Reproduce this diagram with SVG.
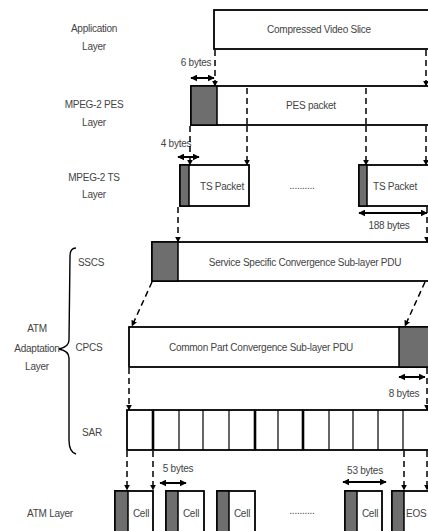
<svg xmlns="http://www.w3.org/2000/svg" width="428" height="531" viewBox="0 0 428 531">
<defs>
<marker id="ah" viewBox="0 0 10 10" refX="9" refY="5" markerWidth="6" markerHeight="6" orient="auto-start-reverse" markerUnits="userSpaceOnUse">
<path d="M0,0 L10,5 L0,10 z" fill="#000"/>
</marker>
<marker id="dh" viewBox="0 0 10 10" refX="9" refY="5" markerWidth="7" markerHeight="7" orient="auto-start-reverse" markerUnits="userSpaceOnUse">
<path d="M0,0 L10,5 L0,10 z" fill="#000"/>
</marker>
<style>
text{font-family:"Liberation Sans",Arial,sans-serif;font-size:10px;fill:#444;text-anchor:middle;letter-spacing:-0.25px}
.box{fill:#fff;stroke:#000;stroke-width:1.8}
.hdr{fill:#6e6e6e;stroke:#000;stroke-width:1.5}
.dash{stroke:#000;stroke-width:1.5;stroke-dasharray:6,4;fill:none}
.dashA{stroke:#000;stroke-width:1.5;stroke-dasharray:6,4;fill:none;marker-end:url(#ah)}
.dim{stroke:#000;stroke-width:2;fill:none;marker-start:url(#dh);marker-end:url(#dh)}
.thin{stroke:#000;stroke-width:1.2}
.thick{stroke:#000;stroke-width:2.6}
</style>
</defs>
<rect width="428" height="531" fill="#fff"/>

<g id="labels">
<text x="94" y="32">Application</text>
<text x="94" y="50">Layer</text>
<text x="94" y="108">MPEG-2 PES</text>
<text x="94" y="126">Layer</text>
<text x="94" y="181">MPEG-2 TS</text>
<text x="94" y="198">Layer</text>
<text x="91" y="266">SSCS</text>
<text x="89" y="351">CPCS</text>
<text x="92" y="436">SAR</text>
<text x="37" y="332">ATM</text>
<text x="37" y="352">Adaptation</text>
<text x="37" y="370">Layer</text>
<text x="50" y="517">ATM Layer</text>
<path d="M76,248 Q70,248 70,256 L69,340 Q69,347 59,349 Q69,351 69,358 L69,440 Q69,452 76,454" fill="none" stroke="#000" stroke-width="1.4"/>
</g>

<g id="app-slice">
<rect class="box" x="214" y="10" width="220" height="39"/>
<text x="319" y="33">Compressed Video Slice</text>
</g>

<g id="pes-packet">
<rect class="box" x="191" y="86" width="243" height="39"/>
<rect class="hdr" x="191" y="86" width="26" height="39"/>
<line class="dash" x1="247" y1="88" x2="247" y2="125"/>
<line class="dash" x1="366" y1="88" x2="366" y2="125"/>
<text x="311" y="109">PES packet</text>
</g>

<g id="ts-packet-1">
<rect class="box" x="180" y="165" width="69" height="41"/>
<rect class="hdr" x="180" y="165" width="9" height="41"/>
<text x="222" y="190">TS Packet</text>
</g>
<text x="302" y="189">..........</text>
<g id="ts-packet-2">
<rect class="box" x="359" y="165" width="75" height="41"/>
<rect class="hdr" x="359" y="165" width="8" height="41"/>
<text x="395" y="190">TS Packet</text>
</g>

<g id="sscs-pdu">
<rect class="box" x="152" y="242" width="282" height="39"/>
<rect class="hdr" x="152" y="242" width="26" height="39"/>
<text x="305" y="266">Service Specific Convergence Sub-layer PDU</text>
</g>

<g id="cpcs-pdu">
<rect class="box" x="129" y="327" width="305" height="40"/>
<rect class="hdr" x="399" y="327" width="35" height="40"/>
<text x="261" y="351">Common Part Convergence Sub-layer PDU</text>
</g>

<g id="sar">
<rect class="box" x="127" y="410" width="307" height="40"/>
<line class="thick" x1="153" y1="410" x2="153" y2="450"/>
<line class="thin" x1="179" y1="410" x2="179" y2="450"/>
<line class="thin" x1="203" y1="410" x2="203" y2="450"/>
<line class="thin" x1="229" y1="410" x2="229" y2="450"/>
<line class="thick" x1="255" y1="410" x2="255" y2="450"/>
<line class="thin" x1="278" y1="410" x2="278" y2="450"/>
<line class="thick" x1="303" y1="410" x2="303" y2="450"/>
<line class="thin" x1="329" y1="410" x2="329" y2="450"/>
<line class="thin" x1="353" y1="410" x2="353" y2="450"/>
<line class="thin" x1="378" y1="410" x2="378" y2="450"/>
<line class="thin" x1="403" y1="410" x2="403" y2="450"/>
</g>

<g id="cell-1">
<rect class="box" x="115" y="491" width="38" height="45"/>
<rect class="hdr" x="115" y="491" width="13" height="45"/>
<text x="141" y="517">Cell</text>
</g>
<g id="cell-2">
<rect class="box" x="166" y="491" width="38" height="45"/>
<rect class="hdr" x="166" y="491" width="12" height="45"/>
<text x="191" y="517">Cell</text>
</g>
<g id="cell-3">
<rect class="box" x="217" y="491" width="38" height="45"/>
<rect class="hdr" x="217" y="491" width="12" height="45"/>
<text x="242" y="517">Cell</text>
</g>
<text x="302" y="514">..........</text>
<g id="cell-4">
<rect class="box" x="345" y="491" width="37" height="45"/>
<rect class="hdr" x="345" y="491" width="12" height="45"/>
<text x="370" y="517">Cell</text>
</g>
<g id="cell-eos">
<rect class="box" x="392" y="491" width="42" height="45"/>
<rect class="hdr" x="392" y="491" width="12" height="45"/>
<text x="406" y="517" style="text-anchor:start">EOS</text>
</g>

<g id="dimensions">
<line class="dim" x1="191" y1="78" x2="214" y2="78"/>
<text x="196" y="66">6 bytes</text>
<line class="dim" x1="178" y1="157" x2="199" y2="157"/>
<text x="176" y="147">4 bytes</text>
<line class="dim" x1="359" y1="213" x2="427" y2="213"/>
<text x="389" y="229">188 bytes</text>
<line class="dim" x1="399" y1="377" x2="425" y2="377"/>
<text x="404" y="397">8 bytes</text>
<line class="dim" x1="160" y1="483" x2="186" y2="483"/>
<text x="178" y="472">5 bytes</text>
<line class="dim" x1="343" y1="482" x2="386" y2="482"/>
<text x="365" y="474">53 bytes</text>
</g>

<g id="connectors">
<line class="dashA" x1="215" y1="50" x2="215" y2="86"/>
<line class="dashA" x1="426" y1="50" x2="426" y2="86"/>
<line class="dashA" x1="190" y1="126" x2="190" y2="165"/>
<line class="dashA" x1="247" y1="126" x2="247" y2="165"/>
<line class="dashA" x1="366" y1="126" x2="366" y2="165"/>
<line class="dashA" x1="426" y1="126" x2="426" y2="165"/>
<line class="dashA" x1="178" y1="207" x2="178" y2="242"/>
<line class="dashA" x1="427" y1="207" x2="427" y2="242"/>
<line class="dashA" x1="152" y1="282" x2="132" y2="326"/>
<line class="dashA" x1="425" y1="282" x2="405" y2="326"/>
<line class="dashA" x1="129" y1="368" x2="129" y2="410"/>
<line class="dashA" x1="427" y1="368" x2="427" y2="410"/>
<line class="dashA" x1="127" y1="451" x2="127" y2="490"/>
<line class="dashA" x1="153" y1="451" x2="153" y2="490"/>
<line class="dashA" x1="404" y1="451" x2="404" y2="490"/>
<line class="dashA" x1="427" y1="451" x2="427" y2="490"/>
</g>
</svg>
